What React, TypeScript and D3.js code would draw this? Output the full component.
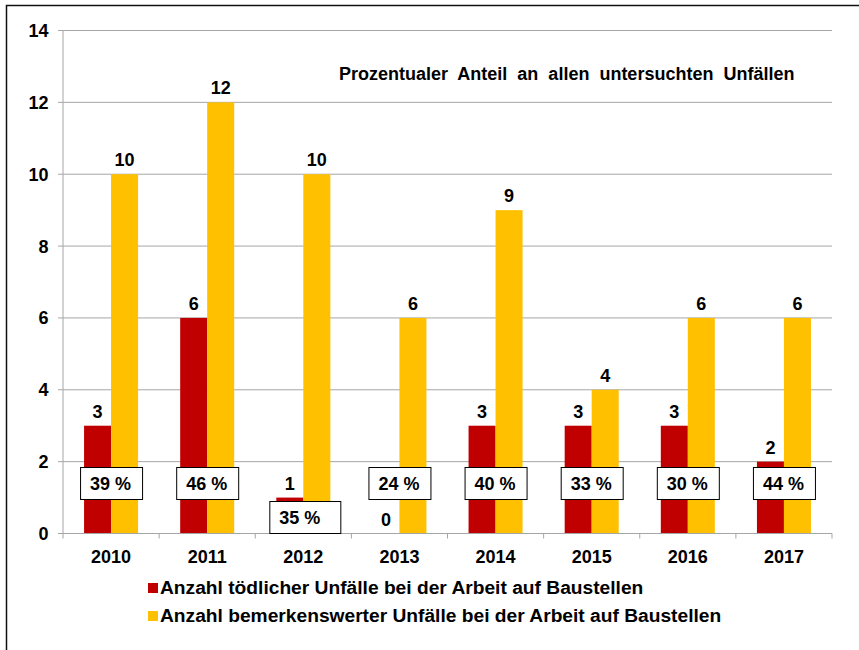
import React from "react";
import * as d3 from "d3";

const years = ["2010", "2011", "2012", "2013", "2014", "2015", "2016", "2017"];
const fatal = [3, 6, 1, 0, 3, 3, 3, 2];
const notable = [10, 12, 10, 6, 9, 4, 6, 6];
const shares = ["39 %", "46 %", "35 %", "24 %", "40 %", "33 %", "30 %", "44 %"];
const yTicks = [0, 2, 4, 6, 8, 10, 12, 14];
const seriesNames = [
  "Anzahl tödlicher Unfälle bei der Arbeit auf Baustellen",
  "Anzahl bemerkenswerter Unfälle bei der Arbeit auf Baustellen",
];
const title = "Prozentualer Anteil an allen untersuchten Unfällen";

const RED = "#C00000";
const YELLOW = "#FFC000";
const GRID = "#A6A6A6";
const FONT = "'Liberation Sans', Arial, sans-serif";

export default function App() {
  const W = 859;
  const H = 650;
  const left = 63;
  const right = 832;
  const top = 30.5;
  const bottom = 533.5;

  const x = d3.scaleBand<string>().domain(years).range([left, right]).paddingInner(0).paddingOuter(0);
  const y = d3.scaleLinear().domain([0, 14]).range([bottom, top]);
  const barW = 27;

  const boxW = 62;
  const boxH = 32;
  const boxTop = 467;

  return (
    <div style={{ position: "absolute", left: 0, top: 0 }}>
      <svg width={W} height={H} style={{ display: "block", background: "#fff" }}>
        <rect x={6.5} y={5.5} width={1000} height={1000} fill="#fff" stroke="#111" strokeWidth={1.5} />
        {yTicks.filter((t) => t > 0).map((t) => (
          <line key={"g" + t} x1={left} x2={right} y1={y(t)} y2={y(t)} stroke={GRID} strokeWidth={1} />
        ))}
        <line x1={left} x2={left} y1={top} y2={bottom} stroke={GRID} strokeWidth={1} />
        {yTicks.map((t) => (
          <g key={"yt" + t}>
            <line x1={left - 5} x2={left} y1={y(t)} y2={y(t)} stroke={GRID} strokeWidth={1} />
            <text x={48.5} y={y(t) + 6.5} textAnchor="end" fontFamily={FONT} fontWeight="bold" fontSize={18} fill="#000">
              {t}
            </text>
          </g>
        ))}
        {years.map((yr, i) => {
          const c = (x(yr) as number) + x.bandwidth() / 2;
          return (
            <g key={"b" + yr}>
              <rect x={c - barW} y={y(fatal[i])} width={barW} height={bottom - y(fatal[i])} fill={RED} />
              <rect x={c} y={y(notable[i])} width={barW} height={bottom - y(notable[i])} fill={YELLOW} />
            </g>
          );
        })}
        <line x1={left} x2={right} y1={bottom} y2={bottom} stroke={GRID} strokeWidth={1} />
        {years.map((yr) => (
          <line key={"xt" + yr} x1={x(yr) as number} x2={x(yr) as number} y1={bottom} y2={bottom + 5} stroke={GRID} />
        ))}
        <line x1={right} x2={right} y1={bottom} y2={bottom + 5} stroke={GRID} />
        {years.map((yr) => (
          <text key={"xl" + yr} x={(x(yr) as number) + x.bandwidth() / 2} y={562.5} textAnchor="middle" fontFamily={FONT} fontWeight="bold" fontSize={18} fill="#000">
            {yr}
          </text>
        ))}
        {years.map((yr, i) => {
          const c = (x(yr) as number) + x.bandwidth() / 2;
          return (
            <g key={"v" + yr}>
              <text x={c - barW / 2} y={y(fatal[i]) - 8} textAnchor="middle" fontFamily={FONT} fontWeight="bold" fontSize={18} fill="#000">
                {fatal[i]}
              </text>
              <text x={c + barW / 2} y={y(notable[i]) - 8} textAnchor="middle" fontFamily={FONT} fontWeight="bold" fontSize={18} fill="#000">
                {notable[i]}
              </text>
            </g>
          );
        })}
        {years.map((yr, i) => {
          const c = (x(yr) as number) + x.bandwidth() / 2;
          const special = i === 2;
          const bx = special ? c - 34 : c - boxW / 2;
          const by = special ? 501 : boxTop;
          const bw = special ? 71 : boxW;
          return (
            <g key={"p" + yr}>
              <rect x={bx + 0.5} y={by + 0.5} width={bw} height={boxH} fill="#fff" stroke="#000" strokeWidth={1} />
              <text x={bx + 30.5} y={by + 23} textAnchor="middle" fontFamily={FONT} fontWeight="bold" fontSize={18} fill="#000">
                {shares[i]}
              </text>
            </g>
          );
        })}
        <text x={339} y={80} fontFamily={FONT} fontWeight="bold" fontSize={18} fill="#000" wordSpacing={5}>
          {title}
        </text>
        {seriesNames.map((n, i) => (
          <g key={"l" + i}>
            <rect x={148} y={583 + i * 28} width={10} height={10} fill={i === 0 ? RED : YELLOW} />
            <text x={160} y={593.5 + i * 28} fontFamily={FONT} fontWeight="bold" fontSize={19.2} fill="#000">
              {n}
            </text>
          </g>
        ))}
      </svg>
    </div>
  );
}
